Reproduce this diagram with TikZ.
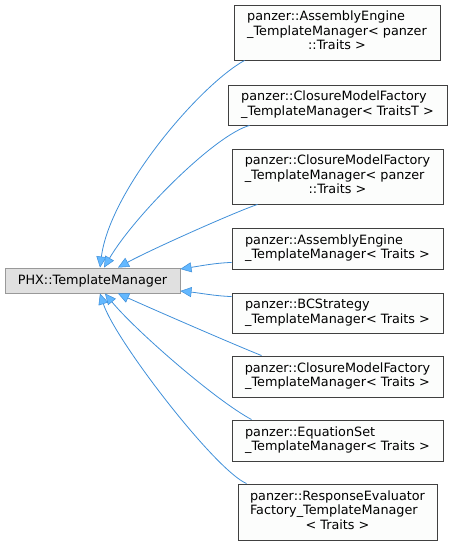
\documentclass[tikz,border=0pt]{standalone}
\usepackage{fontspec}
\setmainfont{DejaVu Sans}
\usetikzlibrary{arrows.meta}
\definecolor{edgeblue}{HTML}{3F8FD9}
\definecolor{tipblue}{HTML}{63B8FF}
\definecolor{boxline}{HTML}{404040}
\definecolor{boxfill}{HTML}{FCFDFC}
\definecolor{basefill}{HTML}{E0E0E0}
\definecolor{basegrey}{HTML}{999999}
% all lines left, last line centred
\newcommand{\cls}[2]{\begin{tabular}{@{}l@{}}#1\\\multicolumn{1}{@{}c@{}}{#2}\end{tabular}}

\begin{document}
\begin{tikzpicture}[x=1pt,y=-1pt,font=\fontsize{12.8}{14.5}\selectfont,
  derived/.style={draw=boxline,fill=boxfill,line width=0.9pt,inner sep=0pt,
     minimum width=211pt,minimum height=41pt},
  base/.style={draw=basegrey,fill=basefill,line width=0.9pt,inner sep=0pt,
     minimum width=175pt,minimum height=25pt},
  inherit/.style={edgeblue,line width=0.8pt,
     {Triangle[length=11pt,width=10pt,fill=tipblue,line width=0.5pt]}-}]
  \useasboundingbox (0,0) rectangle (452,545);
  \node[base] (phx) at (92.5,280.5) {PHX::TemplateManager};
  \node[derived,minimum width=206pt,minimum height=55pt] (aept) at (337,32.5)
     {\cls{panzer::AssemblyEngine\\\_TemplateManager< panzer}{::Traits >}};
  \node[derived,minimum width=219pt,minimum height=40pt] (cmft) at (337.5,105)
     {\cls{panzer::ClosureModelFactory}{\_TemplateManager< TraitsT >}};
  \node[derived,minimum height=55pt] (cmfpt) at (337.5,176.5)
     {\cls{panzer::ClosureModelFactory\\\_TemplateManager< panzer}{::Traits >}};
  \node[derived] (ae) at (337.5,248.5)
     {\cls{panzer::AssemblyEngine}{\_TemplateManager< Traits >}};
  \node[derived,minimum height=40pt] (bcs) at (337.5,313)
     {\cls{panzer::BCStrategy}{\_TemplateManager< Traits >}};
  \node[derived] (cmf) at (337.5,376.5)
     {\cls{panzer::ClosureModelFactory}{\_TemplateManager< Traits >}};
  \node[derived] (eqs) at (337.5,440.5)
     {\cls{panzer::EquationSet}{\_TemplateManager< Traits >}};
  \node[derived,minimum width=199pt,minimum height=56pt] (ref) at (337.5,512)
     {\cls{panzer::ResponseEvaluator\\Factory\_TemplateManager}{< Traits >}};

  \draw[inherit] ([xshift=7.5pt]phx.north) .. controls (110,190) and (200,85) .. ([xshift=11pt]aept.south west);
  \draw[inherit] ([xshift=11.5pt]phx.north) .. controls (135,215) and (215,135) .. ([xshift=22pt]cmft.south west);
  \draw[inherit] ([xshift=25.5pt]phx.north) .. controls (150,250) and (235,212) .. ([xshift=26pt]cmfpt.south west);
  \draw[inherit] ([yshift=11.5pt]phx.east) .. controls (200,266) and (215,263) .. ([yshift=7pt]ae.south west);
  \draw[inherit] ([yshift=-10.5pt]phx.east) .. controls (200,293) and (215,296) .. ([yshift=-4pt]bcs.north west);
  \draw[inherit] ([xshift=25.5pt]phx.south) .. controls (150,308) and (235,345) .. ([xshift=30pt]cmf.north west);
  \draw[inherit] ([xshift=12.5pt]phx.south) .. controls (135,330) and (215,400) .. ([xshift=20pt]eqs.north west);
  \draw[inherit] ([xshift=7.5pt]phx.south) .. controls (115,340) and (215,470) .. ([xshift=9pt]ref.north west);
\end{tikzpicture}
\end{document}
